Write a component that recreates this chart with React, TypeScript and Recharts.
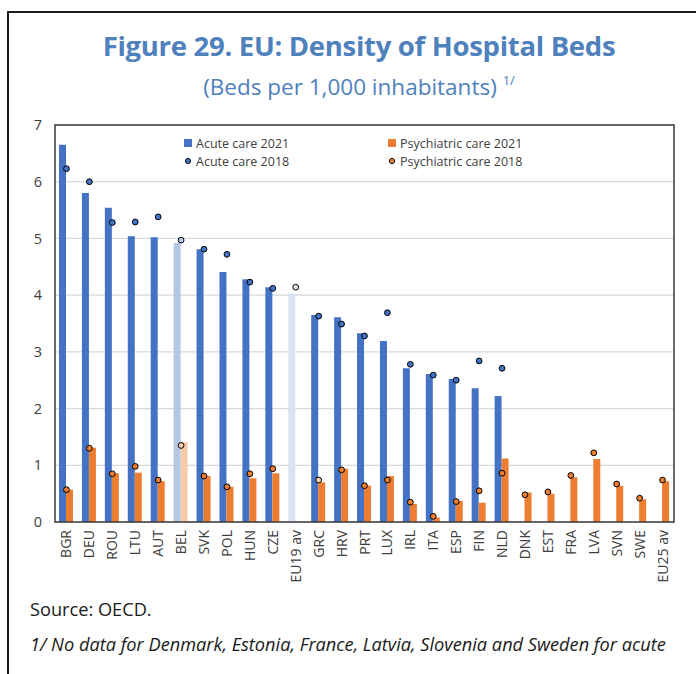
import React from 'react';
import { ComposedChart, Bar, Line, XAxis, YAxis, CartesianGrid, Cell } from 'recharts';

const categories = ['BGR','DEU','ROU','LTU','AUT','BEL','SVK','POL','HUN','CZE','EU19 av','GRC','HRV','PRT','LUX','IRL','ITA','ESP','FIN','NLD','DNK','EST','FRA','LVA','SVN','SWE','EU25 av'];
const acute2021 = [6.65, 5.80, 5.54, 5.04, 5.02, 4.92, 4.81, 4.41, 4.28, 4.14, 4.03, 3.65, 3.61, 3.33, 3.19, 2.71, 2.61, 2.52, 2.36, 2.22, null, null, null, null, null, null, null];
const psych2021 = [0.57, 1.31, 0.86, 0.87, 0.72, 1.41, 0.81, 0.62, 0.77, 0.86, null, 0.70, 0.94, 0.64, 0.81, 0.32, 0.08, 0.37, 0.34, 1.12, 0.52, 0.50, 0.79, 1.11, 0.64, 0.40, 0.72];
const acute2018 = [6.23, 6.00, 5.28, 5.29, 5.38, 4.97, 4.81, 4.72, 4.23, 4.12, 4.14, 3.63, 3.49, 3.28, 3.69, 2.78, 2.59, 2.50, 2.84, 2.71, null, null, null, null, null, null, null];
const psych2018 = [0.57, 1.30, 0.85, 0.98, 0.74, 1.35, 0.81, 0.62, 0.85, 0.94, null, 0.74, 0.92, 0.64, 0.74, 0.35, 0.10, 0.36, 0.55, 0.86, 0.48, 0.53, 0.82, 1.22, 0.67, 0.42, 0.74];
const yTicks = [0, 1, 2, 3, 4, 5, 6, 7];

const BLUE = '#4472C4';
const ORANGE = '#ED7D31';
const lightAcute: Record<string, string> = { 'BEL': '#B4C7E7', 'EU19 av': '#DAE3F3' };
const lightPsych: Record<string, string> = { 'BEL': '#F8CBAD' };
const lightPsychDot: Record<string, string> = { 'BEL': '#F8CBAD', 'GRC': '#F8CBAD' };

const data = categories.map((name, i) => ({
  name,
  acute2021: acute2021[i],
  psych2021: psych2021[i],
  acute2018: acute2018[i],
  psych2018: psych2018[i],
}));

const TEXT = '#404040';
const FRAME = '#3a3a3a';
const FONT = '"Open Sans", "Noto Sans", sans-serif';

const CHART_W = 696;
const CHART_H = 674;
const MARGIN = { top: 125, right: 22, bottom: 82, left: 25 };
const Y_AXIS_W = 30;
const X_AXIS_H = 70;

const XTick = (props: any) => {
  const { x, y, payload } = props;
  return (
    <text x={x} y={y} transform={`rotate(-90 ${x} ${y})`} textAnchor="end" dy="0.36em"
      fontSize={14} fill={TEXT} fontFamily={FONT}>{payload.value}</text>
  );
};

const makeDot = (key: string, base: string, light: Record<string, string>) => (props: any) => {
  const { cx, cy, index, payload } = props;
  if (payload == null || payload[key] == null || cx == null || cy == null) return <g key={`${key}-${index}`} />;
  const fill = light[payload.name] || base;
  return <circle key={`${key}-${index}`} cx={cx} cy={cy} r={2.9} fill={fill} stroke="#000" strokeWidth={1} />;
};

const LegendBox = () => {
  const item = (label: string, color: string, kind: 'sq' | 'dot') => (
    <div style={{ display: 'flex', alignItems: 'center', height: 18 }}>
      <svg width={12} height={10} style={{ marginRight: 1 }}>
        {kind === 'sq'
          ? <rect x={1} y={1} width={8} height={8} fill={color} />
          : <circle cx={5} cy={5} r={2.6} fill={color} stroke="#000" strokeWidth={0.9} />}
      </svg>
      <span style={{ fontSize: 12.5, color: TEXT, fontFamily: FONT }}>{label}</span>
    </div>
  );
  return (
    <div style={{ position: 'absolute', left: 183, top: 134, display: 'grid', gridTemplateColumns: '204px 200px' }}>
      {item('Acute care 2021', BLUE, 'sq')}
      {item('Psychiatric care 2021', ORANGE, 'sq')}
      {item('Acute care 2018', BLUE, 'dot')}
      {item('Psychiatric care 2018', ORANGE, 'dot')}
    </div>
  );
};

export default function App() {
  const plotLeft = MARGIN.left + Y_AXIS_W;
  const plotTop = MARGIN.top;
  const plotW = CHART_W - plotLeft - MARGIN.right;
  const plotH = CHART_H - MARGIN.top - MARGIN.bottom - X_AXIS_H;
  return (
    <div style={{ position: 'absolute', left: 0, top: 0, width: 696, height: 674, overflow: 'hidden', background: '#fff', fontFamily: FONT }}>
      <div style={{ position: 'absolute', left: 7, top: 11, width: 800, height: 800, border: '2px solid #1a1a1a' }} />
      <div style={{ position: 'absolute', left: 0, top: 27, width: 718, textAlign: 'center', fontSize: 27.5, lineHeight: 'normal', fontWeight: 700, color: '#4F81BD', letterSpacing: -0.3, whiteSpace: 'nowrap' }}>
        Figure 29. EU: Density of Hospital Beds
      </div>
      <div style={{ position: 'absolute', left: 0, top: 71, width: 718, textAlign: 'center', fontSize: 22.5, lineHeight: 'normal', color: '#4F81BD', whiteSpace: 'nowrap' }}>
        (Beds per 1,000 inhabitants) <span style={{ fontSize: 13, position: 'relative', top: -10 }}>1/</span>
      </div>
      <div style={{ position: 'absolute', left: 0, top: 0 }}>
        <ComposedChart width={CHART_W} height={CHART_H} data={data} barGap={0} barCategoryGap={0} margin={MARGIN}>
          <CartesianGrid horizontal vertical={false} stroke="#d9d9d9" strokeWidth={1.2} />
          <XAxis dataKey="name" interval={0} height={X_AXIS_H} tickLine={false} tickSize={0} tickMargin={8}
            axisLine={false} tick={<XTick />} />
          <YAxis domain={[0, 7]} ticks={yTicks} width={Y_AXIS_W} tickLine={false} tickSize={6} tickMargin={7}
            interval={0} axisLine={false}
            tick={{ fontSize: 14.5, fill: TEXT, fontFamily: FONT }} />
          <Bar dataKey="acute2021" name="Acute care 2021" barSize={7} fill={BLUE} isAnimationActive={false}>
            {data.map((d) => <Cell key={d.name} fill={lightAcute[d.name] || BLUE} />)}
          </Bar>
          <Bar dataKey="psych2021" name="Psychiatric care 2021" barSize={7} fill={ORANGE} isAnimationActive={false}>
            {data.map((d) => <Cell key={d.name} fill={lightPsych[d.name] || ORANGE} />)}
          </Bar>
          <Line dataKey="acute2018" name="Acute care 2018" stroke="none" isAnimationActive={false}
            dot={makeDot('acute2018', BLUE, lightAcute)} activeDot={false} />
          <Line dataKey="psych2018" name="Psychiatric care 2018" stroke="none" isAnimationActive={false}
            dot={makeDot('psych2018', ORANGE, lightPsychDot)} activeDot={false} />
        </ComposedChart>
      </div>
      <svg width={696} height={674} style={{ position: 'absolute', left: 0, top: 0, pointerEvents: 'none' }}>
        <rect x={plotLeft} y={plotTop} width={plotW} height={plotH} fill="none" stroke={FRAME} strokeWidth={1.5} />
      </svg>
      <LegendBox />
      <div style={{ position: 'absolute', left: 30, top: 597, fontSize: 18.2, lineHeight: 'normal', color: '#1a1a1a' }}>Source: OECD.</div>
      <div style={{ position: 'absolute', left: 30, top: 632, fontSize: 18.2, lineHeight: 'normal', fontStyle: 'italic', color: '#1a1a1a', whiteSpace: 'nowrap' }}>
        1/ No data for Denmark, Estonia, France, Latvia, Slovenia and Sweden for acute
      </div>
    </div>
  );
}
